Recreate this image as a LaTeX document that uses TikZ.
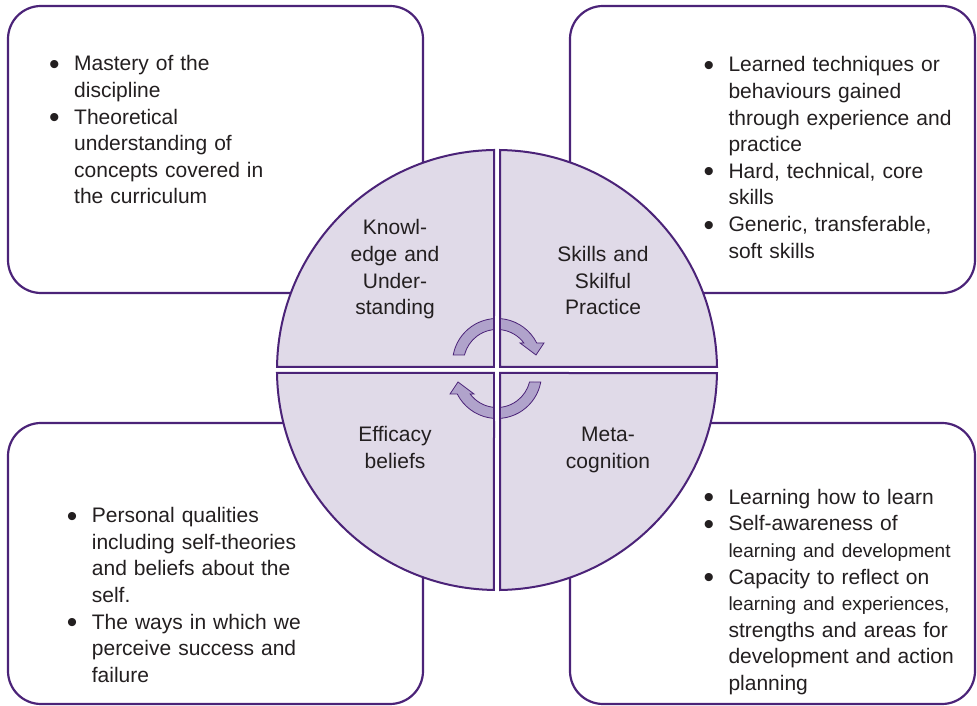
\documentclass[tikz,border=0pt]{standalone}
\usepackage{fontspec}
\setmainfont{Liberation Sans}
\usetikzlibrary{calc}
\definecolor{plum}{HTML}{4B2378}
\definecolor{lilac}{HTML}{E0DAE8}
\definecolor{arrowlilac}{HTML}{B0A3CB}
\definecolor{inkgrey}{HTML}{231F20}
\def\bulletline#1{\hangindent=25pt\hangafter=1\noindent\makebox[25pt][l]{\raisebox{-3.5pt}[0pt][0pt]{\fontsize{30}{26.6}\selectfont\textbullet}}#1\par}
\def\finer#1{{\fontsize{19}{26.6}\selectfont #1}}

\begin{document}
\begin{tikzpicture}[x=1pt, y=1pt,
	box/.style={draw=plum, line width=2.2pt, rounded corners=33pt, fill=white},
	quarter/.style={draw=plum, line width=2pt, fill=lilac},
	turn/.style={draw=plum, line width=0.8pt, fill=arrowlilac},
	notes/.style={anchor=base west, inner sep=0pt, text width=270pt, text=inkgrey, font={\fontsize{21}{26.6}\selectfont}},
	quartertext/.style={anchor=base, inner sep=0pt, text width=130pt, align=center, text=inkgrey, font={\fontsize{21}{26.6}\selectfont}}]
			%%%%% START %%%%%
			\useasboundingbox (0,0) rectangle (977,706);
			
			\draw[box] (8,413) rectangle (423,700);
			\draw[box] (570,413) rectangle (975,700);
			\draw[box] (8,2) rectangle (423,283);
			\draw[box] (570,2) rectangle (975,283);
			
			\draw[quarter] (494,339) -- (494,556) arc (90.78:179.22:220) -- cycle;
			\draw[quarter] (500,339) -- (717,339) arc (0.78:89.22:220) -- cycle;
			\draw[quarter] (494,333) -- (277,333) arc (180.78:269.22:220) -- cycle;
			\draw[quarter] (500,333) -- (500,116) arc (-89.22:-0.78:220) -- cycle;
			
			\foreach \spin/\cy in {0/343, 180/332}
				\draw[turn, shift={(497,\cy)}, rotate=\spin] (169.6:44.5) arc (169.6:26.7:44.5) -- (47,20) -- (39,8) -- (23,20) -- (36.7:33.5) arc (36.7:166.2:33.5) -- cycle;
			
			\fill[white] (495,285) rectangle (499,390);
			\draw[plum, line width=2pt] (494,285) -- (494,333) (494,339) -- (494,390);
			\draw[plum, line width=2pt] (500,285) -- (500,333) (500,339) -- (500,390);
			
			\node[quartertext] (knowledge) at (395,471) {Knowl-\\edge and\\Under-\\standing};
			\node[quartertext] (skills) at (603,444.5) {Skills and\\Skilful\\Practice};
			\node[quartertext] (efficacy) at (395,264) {Efficacy\\beliefs};
			\node[quartertext] (metacog) at (608,264) {Meta-\\cognition};
			
			\node[notes] (knowledgenotes) at (49,635) {\bulletline{Mastery of the\newline discipline}\bulletline{Theoretical\newline understanding of\newline concepts covered in\newline the curriculum}};
			\node[notes] (skillsnotes) at (703.3,634) {\bulletline{Learned techniques or\newline behaviours gained\newline through experience and\newline practice}\bulletline{Hard, technical, core\newline skills}\bulletline{Generic, transferable,\newline soft skills}};
			\node[notes] (efficacynotes) at (66.7,183.3) {\bulletline{Personal qualities\newline including self-theories\newline and beliefs about the\newline self.}\bulletline{The ways in which we\newline perceive success and\newline failure}};
			\node[notes] (metacognotes) at (703.3,201.7) {\bulletline{Learning how to learn}\bulletline{Self-awareness of\newline \finer{learning and development}}\bulletline{Capacity to reflect on\newline \finer{learning and experiences,}\newline strengths and areas for\newline development and action\newline planning}};
			
			%%%%% END %%%%%
\end{tikzpicture}
\end{document}
